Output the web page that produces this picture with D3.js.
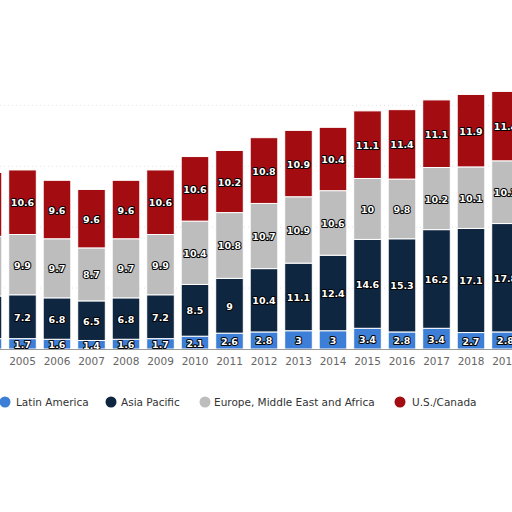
<!DOCTYPE html><html><head><meta charset="utf-8"><script src="https://cdn.jsdelivr.net/npm/d3@7"></script>
<style>body{margin:0;background:#fff}</style></head><body><svg id="c" width="512" height="512"></svg><script>
const years=["2004","2005","2006","2007","2008","2009","2010","2011","2012","2013","2014","2015","2016","2017","2018","2019"];
const latinAmerica=[1.7,1.7,1.6,1.4,1.6,1.7,2.1,2.6,2.8,3,3,3.4,2.8,3.4,2.7,2.8];
const asiaPacific=[7.0,7.2,6.8,6.5,6.8,7.2,8.5,9,10.4,11.1,12.4,14.6,15.3,16.2,17.1,17.8];
const emea=[9.8,9.9,9.7,8.7,9.7,9.9,10.4,10.8,10.7,10.9,10.6,10,9.8,10.2,10.1,10.3];
const usCanada=[10.5,10.6,9.6,9.6,9.6,10.6,10.6,10.2,10.8,10.9,10.4,11.1,11.4,11.1,11.9,11.4];
const series=[["Latin America",latinAmerica,"#3d7fd6"],["Asia Pacific",asiaPacific,"#0f2640"],["Europe, Middle East and Africa",emea,"#bdbdbd"],["U.S./Canada",usCanada,"#a30d12"]];
const svg=d3.select("#c");
const x=d3.scaleBand().domain(years).range([-29.25,522.75]).paddingInner(0.2).paddingOuter(0.1);
const y=d3.scaleLinear().domain([0,45]).range([349,349-45*6.09]);
[10,20,30,40].forEach(v=>svg.append("line").attr("x1",0).attr("x2",512).attr("y1",y(v)).attr("y2",y(v)).attr("stroke","#e2e2e2").attr("stroke-dasharray","1,3"));
const stack=years.map((yr,i)=>{let acc=0;return series.map(s=>{const a=acc;acc+=s[1][i];return {yr,i,v:s[1][i],a,b:acc,c:s[2]};});});
stack.forEach(segs=>segs.forEach(d=>{
 svg.append("rect").attr("x",x(d.yr)).attr("width",x.bandwidth()).attr("y",y(d.b)).attr("height",y(d.a)-y(d.b)).attr("fill",d.c).attr("stroke","#fff").attr("stroke-width",1);
 if(d.i===0) return;
 svg.append("text").attr("x",x(d.yr)+x.bandwidth()/2).attr("y",(y(d.a)+y(d.b))/2+4).attr("text-anchor","middle")
  .attr("font-family","DejaVu Sans").attr("font-weight","bold").attr("font-size",9.5).attr("fill","#fff")
  .attr("stroke","#000").attr("stroke-width",2).attr("paint-order","stroke").attr("stroke-linejoin","round").text(d.v);
}));
svg.append("line").attr("x1",0).attr("x2",512).attr("y1",349.5).attr("y2",349.5).attr("stroke","#999");
const ax=svg.append("g").attr("transform","translate(0,349)").call(d3.axisBottom(x).tickSize(0).tickPadding(9));
ax.select(".domain").remove();
ax.selectAll("text").attr("font-family","DejaVu Sans").attr("font-size",10.5).attr("fill","#666").filter(d=>d==="2004").remove();
const leg=[[5,16],[111,121],[205,214],[400,412]];
series.forEach((s,i)=>{
 svg.append("circle").attr("cx",leg[i][0]).attr("cy",402).attr("r",5.5).attr("fill",s[2]);
 svg.append("text").attr("x",leg[i][1]).attr("y",406).attr("font-family","DejaVu Sans").attr("font-size",10.5).attr("fill","#333").text(s[0]);
});
</script></body></html>
